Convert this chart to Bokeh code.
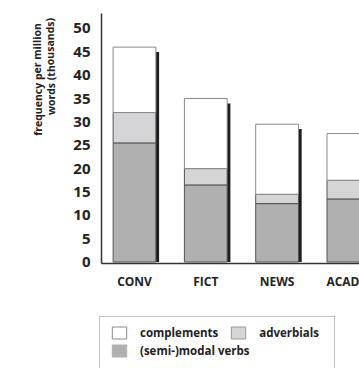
from bokeh.plotting import figure
from bokeh.models import (ColumnDataSource, Legend, LegendItem, Label, BoxAnnotation,
                          FixedTicker, Range1d)
from bokeh.layouts import column, row
from bokeh.embed import file_html
from bokeh.resources import INLINE

categories = ["CONV", "FICT", "NEWS", "ACAD"]
modal_verbs = [25.5, 16.5, 12.5, 13.5]
adverbials = [6.5, 3.5, 2.0, 4.0]
complements = [14.0, 15.0, 15.0, 10.0]
y_ticks = [0, 5, 10, 15, 20, 25, 30, 35, 40, 45, 50]
y_title = ["frequency per million", "words (thousands)"]
series_names = ["complements", "adverbials", "(semi-)modal verbs"]

FONT = "Open Sans"
TXT = "#222222"
C_MODAL = "#b0b0b0"
C_ADV = "#d5d5d8"
C_COMP = "white"

xs = list(range(len(categories)))
t1 = list(modal_verbs)
t2 = [a + b for a, b in zip(t1, adverbials)]
t3 = [a + b for a, b in zip(t2, complements)]

src = ColumnDataSource(dict(x=xs, xs=[x + 0.045 for x in xs], z=[0] * 4,
                            t1=t1, t2=t2, t3=t3, sh=[t - 1.05 for t in t3]))


def bare(fig):
    fig.outline_line_color = None
    fig.xgrid.visible = False
    fig.ygrid.visible = False
    fig.background_fill_color = "white"
    fig.border_fill_color = "white"
    fig.min_border_left = fig.min_border_right = 0
    fig.min_border_top = fig.min_border_bottom = 0


# ---------- y title panel (frame is aligned with the chart frame) ----------
tf = figure(width=60, height=300, output_backend="svg", toolbar_location=None,
            x_axis_type=None, y_axis_type=None, x_range=(0, 1), y_range=(0, 1))
bare(tf)
for txt, xx, yy in zip(y_title, [37, 50], [184, 197]):
    tf.add_layout(Label(x=xx, y=yy, x_units="screen", y_units="screen", text=txt,
                        angle=1.5708, text_align="center", text_baseline="middle",
                        text_font=FONT, text_font_size="10.5px", text_font_style="bold",
                        text_color=TXT))

# ---------- main chart ----------
p = figure(width=299, height=300, output_backend="svg", toolbar_location=None,
           x_range=(-0.463, 3.156), y_range=(-0.32, 53.2))
bare(p)
p.min_border_left = 41
p.min_border_top = 13
p.min_border_bottom = 37

W = 0.6
p.vbar(x="xs", width=W, bottom="z", top="sh", source=src, fill_color="#1e1e1e", line_color=None)
p.vbar(x="x", width=W, bottom="z", top="t1", source=src, fill_color=C_MODAL,
       line_color="#555555", line_width=1)
p.vbar(x="x", width=W, bottom="t1", top="t2", source=src, fill_color=C_ADV,
       line_color="#555555", line_width=1)
p.vbar(x="x", width=W, bottom="t2", top="t3", source=src, fill_color=C_COMP,
       line_color="#8a8a8a", line_width=1)

ya = p.yaxis[0]
ya.ticker = FixedTicker(ticks=y_ticks)
ya.major_tick_line_color = None
ya.minor_tick_line_color = None
ya.axis_line_color = "#333333"
ya.axis_line_width = 1.5
ya.major_label_text_font = FONT
ya.major_label_text_font_size = "15px"
ya.major_label_text_font_style = "bold"
ya.major_label_text_color = TXT
ya.major_label_standoff = 5

xa = p.xaxis[0]
xa.ticker = FixedTicker(ticks=xs)
xa.major_label_overrides = {i: c for i, c in enumerate(categories)}
xa.major_tick_line_color = None
xa.minor_tick_line_color = None
xa.axis_line_color = "#333333"
xa.axis_line_width = 1.5
xa.major_label_text_font = FONT
xa.major_label_text_font_size = "12px"
xa.major_label_text_font_style = "bold"
xa.major_label_text_color = TXT
xa.major_label_standoff = 3

# ---------- legend panel ----------
lf = figure(width=359, height=68, output_backend="svg", toolbar_location=None,
            x_axis_type=None, y_axis_type=None, x_range=Range1d(0, 1), y_range=Range1d(0, 1))
bare(lf)
proxy = ColumnDataSource(dict(x=[5], y=[5]))
lr_comp = lf.rect(x="x", y="y", width=1, height=1, source=proxy, fill_color=C_COMP,
                  line_color="#8a8a8a")
lr_adv = lf.rect(x="x", y="y", width=1, height=1, source=proxy, fill_color=C_ADV,
                 line_color="#9a9a9a")
lr_mod = lf.rect(x="x", y="y", width=1, height=1, source=proxy, fill_color=C_MODAL,
                 line_color=C_MODAL)

lf.add_layout(BoxAnnotation(left=99, right=334, top=52, bottom=-5,
                            left_units="screen", right_units="screen",
                            top_units="screen", bottom_units="screen",
                            fill_color="white", fill_alpha=1.0,
                            line_color="#333333", line_width=1))

common = dict(orientation="horizontal", padding=0, margin=0, spacing=11,
              border_line_color=None, background_fill_alpha=0,
              glyph_width=18, glyph_height=15, label_standoff=12,
              label_text_font=FONT, label_text_font_size="11.5px",
              label_text_font_style="bold", label_text_color=TXT,
              label_height=15)
leg1 = Legend(items=[LegendItem(label=series_names[0], renderers=[lr_comp]),
                     LegendItem(label=series_names[1], renderers=[lr_adv])],
              location=(110, 28), **common)
leg2 = Legend(items=[LegendItem(label=series_names[2], renderers=[lr_mod])],
              location=(110, 10), **common)
lf.add_layout(leg1, "center")
lf.add_layout(leg2, "center")

layout = column(row(tf, p, spacing=0), lf, spacing=0)
open("out.html", "w").write(file_html(layout, INLINE))
